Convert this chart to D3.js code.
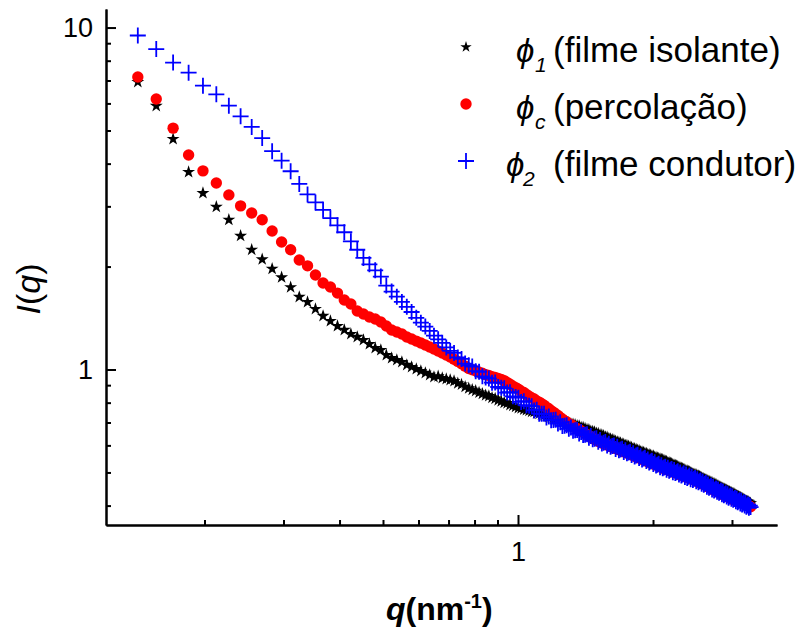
<!DOCTYPE html>
<html>
<head>
<meta charset="utf-8">
<script src="https://cdn.jsdelivr.net/npm/d3@7"></script>
<style>
  body { margin: 0; background: #fff; }
  svg { display: block; }
  text { font-family: "Liberation Sans", Arial, sans-serif; }
</style>
</head>
<body>
<svg id="chart" width="801" height="630"></svg>
<script>

// q grid (nm^-1), shared by the three curves
var q = [
  0.1420,0.1561,0.1702,0.1843,0.1984,0.2125,0.2266,0.2407,0.2548,0.2689,
  0.2830,0.2971,0.3112,0.3253,0.3394,0.3535,0.3676,0.3817,0.3958,0.4099,
  0.4240,0.4381,0.4522,0.4663,0.4804,0.4945,0.5086,0.5227,0.5368,0.5509,
  0.5650,0.5791,0.5932,0.6073,0.6214,0.6355,0.6496,0.6637,0.6778,0.6919,
  0.7060,0.7201,0.7342,0.7483,0.7624,0.7765,0.7906,0.8047,0.8188,0.8329,
  0.8470,0.8611,0.8752,0.8893,0.9034,0.9175,0.9316,0.9457,0.9598,0.9739,
  0.9880,1.0021,1.0162,1.0303,1.0444,1.0585,1.0726,1.0867,1.1008,1.1149,
  1.1290,1.1431,1.1572,1.1713,1.1854,1.1995,1.2136,1.2277,1.2418,1.2559,
  1.2700,1.2841,1.2982,1.3123,1.3264,1.3405,1.3546,1.3687,1.3828,1.3969,
  1.4110,1.4251,1.4392,1.4533,1.4674,1.4815,1.4956,1.5097,1.5238,1.5379,
  1.5520,1.5661,1.5802,1.5943,1.6084,1.6225,1.6366,1.6507,1.6648,1.6789,
  1.6930,1.7071,1.7212,1.7353,1.7494,1.7635,1.7776,1.7917,1.8058,1.8199,
  1.8340,1.8481,1.8622,1.8763,1.8904,1.9045,1.9186,1.9327,1.9468,1.9609,
  1.9750,1.9891,2.0032,2.0173,2.0314,2.0455,2.0596,2.0737,2.0878,2.1019,
  2.1160,2.1301,2.1442,2.1583,2.1724,2.1865,2.2006,2.2147,2.2288,2.2429,
  2.2570,2.2711,2.2852,2.2993,2.3134,2.3275,2.3416,2.3557,2.3698,2.3839,
  2.3980,2.4121,2.4262,2.4403,2.4544,2.4685,2.4826,2.4967,2.5108,2.5249,
  2.5390,2.5531,2.5672,2.5813,2.5954,2.6095,2.6236,2.6377,2.6518,2.6659,
  2.6800,2.6941,2.7082,2.7223,2.7364,2.7505,2.7646,2.7787,2.7928,2.8069,
  2.8210,2.8351,2.8492,2.8633,2.8774,2.8915,2.9056,2.9197,2.9338,2.9479,
  2.9620,2.9761,2.9902,3.0043,3.0184,3.0325,3.0466,3.0607,3.0748,3.0889,
  3.1030,3.1171,3.1312,3.1453,3.1594,3.1735,3.1876,3.2017,3.2158,3.2299,
  3.2440,3.2581,3.2722,3.2863,3.3004
];

// phi1 - filme isolante (black stars)
var phi1 = [
  6.93,5.90,4.72,3.78,3.28,2.99,2.74,2.46,2.24,2.10,
  1.97,1.86,1.74,1.63,1.575,1.503,1.434,1.386,1.340,1.305,
  1.270,1.245,1.220,1.187,1.156,1.140,1.102,1.080,1.066,1.052,
  1.031,1.017,1.003,0.990,0.977,0.964,0.951,0.955,0.944,0.938,
  0.932,0.925,0.911,0.904,0.890,0.881,0.872,0.866,0.856,0.849,
  0.841,0.836,0.827,0.822,0.813,0.807,0.800,0.797,0.788,0.784,
  0.778,0.772,0.770,0.764,0.761,0.758,0.753,0.752,0.745,0.743,
  0.739,0.735,0.733,0.728,0.725,0.722,0.720,0.714,0.712,0.708,
  0.705,0.701,0.699,0.693,0.692,0.689,0.684,0.683,0.677,0.676,
  0.672,0.667,0.666,0.660,0.659,0.656,0.651,0.650,0.644,0.643,
  0.640,0.635,0.633,0.628,0.626,0.623,0.621,0.617,0.614,0.612,
  0.609,0.605,0.604,0.599,0.599,0.596,0.593,0.591,0.586,0.586,
  0.583,0.580,0.579,0.575,0.574,0.572,0.569,0.568,0.564,0.563,
  0.561,0.558,0.558,0.554,0.553,0.551,0.549,0.547,0.545,0.544,
  0.542,0.539,0.538,0.534,0.534,0.532,0.530,0.527,0.525,0.524,
  0.522,0.520,0.518,0.515,0.514,0.512,0.510,0.509,0.505,0.505,
  0.503,0.501,0.499,0.497,0.495,0.494,0.492,0.491,0.488,0.488,
  0.486,0.484,0.482,0.479,0.479,0.477,0.475,0.474,0.471,0.471,
  0.469,0.467,0.466,0.463,0.463,0.461,0.460,0.457,0.456,0.454,
  0.453,0.451,0.450,0.448,0.447,0.446,0.444,0.443,0.441,0.440,
  0.439,0.437,0.436,0.434,0.433,0.432,0.430,0.429,0.427,0.426,
  0.425,0.423,0.422,0.420,0.419,0.418,0.416,0.415,0.413,0.412,
  0.411,0.410,0.408,0.407,0.406
];

// phi_c - percolacao (red circles)
var phic = [
  7.17,6.18,5.08,4.24,3.81,3.51,3.24,3.01,2.87,2.74,
  2.54,2.36,2.24,2.09,2.01,1.889,1.790,1.743,1.673,1.597,
  1.554,1.483,1.453,1.424,1.405,1.377,1.340,1.305,1.287,1.270,
  1.245,1.228,1.211,1.195,1.179,1.164,1.148,1.133,1.117,1.102,
  1.088,1.071,1.056,1.039,1.023,1.007,0.998,0.992,0.982,0.975,
  0.966,0.961,0.953,0.948,0.941,0.936,0.928,0.916,0.906,0.894,
  0.885,0.876,0.864,0.857,0.845,0.835,0.826,0.820,0.809,0.803,
  0.794,0.786,0.776,0.768,0.758,0.750,0.741,0.734,0.724,0.716,
  0.707,0.702,0.694,0.690,0.682,0.677,0.671,0.667,0.660,0.656,
  0.650,0.645,0.640,0.635,0.629,0.624,0.621,0.617,0.614,0.610,
  0.607,0.604,0.602,0.599,0.596,0.594,0.591,0.588,0.586,0.583,
  0.580,0.578,0.575,0.573,0.570,0.568,0.566,0.563,0.561,0.558,
  0.556,0.554,0.552,0.549,0.547,0.545,0.543,0.540,0.539,0.536,
  0.534,0.532,0.530,0.528,0.526,0.524,0.522,0.520,0.518,0.516,
  0.514,0.512,0.511,0.509,0.507,0.506,0.504,0.502,0.501,0.499,
  0.498,0.496,0.495,0.493,0.491,0.490,0.489,0.487,0.486,0.484,
  0.483,0.481,0.480,0.478,0.477,0.476,0.474,0.473,0.471,0.469,
  0.468,0.466,0.465,0.463,0.461,0.460,0.458,0.456,0.454,0.453,
  0.451,0.450,0.448,0.446,0.445,0.443,0.442,0.440,0.439,0.437,
  0.436,0.435,0.433,0.432,0.430,0.429,0.428,0.426,0.425,0.423,
  0.422,0.421,0.420,0.418,0.417,0.416,0.415,0.414,0.413,0.412,
  0.411,0.410,0.409,0.408,0.407,0.406,0.405,0.404,0.403,0.402,
  0.401,0.400,0.399,0.398,0.397
];

// phi2 - filme condutor (blue crosses)
var phi2 = [
  9.48,8.65,7.90,7.38,6.76,6.38,5.91,5.50,5.12,4.75,
  4.35,4.08,3.80,3.49,3.25,3.08,2.93,2.77,2.64,2.52,
  2.37,2.24,2.12,2.03,1.95,1.87,1.76,1.69,1.633,1.576,
  1.525,1.473,1.416,1.371,1.335,1.297,1.256,1.225,1.197,1.160,
  1.133,1.118,1.085,1.074,1.041,1.029,1.020,0.989,0.985,0.955,
  0.947,0.941,0.915,0.916,0.889,0.885,0.881,0.856,0.858,0.835,
  0.831,0.827,0.804,0.808,0.786,0.783,0.781,0.759,0.763,0.743,
  0.742,0.742,0.724,0.729,0.711,0.712,0.713,0.695,0.701,0.684,
  0.685,0.687,0.671,0.677,0.662,0.664,0.666,0.650,0.657,0.643,
  0.645,0.647,0.632,0.639,0.625,0.627,0.630,0.615,0.622,0.608,
  0.611,0.614,0.599,0.607,0.594,0.597,0.600,0.586,0.594,0.581,
  0.584,0.587,0.574,0.581,0.569,0.572,0.575,0.562,0.569,0.557,
  0.560,0.563,0.551,0.558,0.546,0.549,0.552,0.540,0.546,0.535,
  0.538,0.541,0.529,0.536,0.524,0.527,0.530,0.518,0.525,0.514,
  0.517,0.520,0.509,0.516,0.506,0.509,0.512,0.501,0.508,0.498,
  0.501,0.504,0.493,0.500,0.490,0.493,0.497,0.485,0.493,0.482,
  0.486,0.490,0.478,0.486,0.475,0.479,0.482,0.471,0.478,0.468,
  0.471,0.474,0.463,0.470,0.460,0.463,0.466,0.454,0.461,0.451,
  0.454,0.457,0.446,0.453,0.443,0.446,0.449,0.439,0.446,0.436,
  0.439,0.442,0.432,0.439,0.429,0.432,0.435,0.425,0.432,0.422,
  0.425,0.428,0.419,0.425,0.416,0.418,0.421,0.412,0.419,0.409,
  0.412,0.415,0.406,0.413,0.403,0.406,0.409,0.400,0.407,0.397,
  0.400,0.403,0.394,0.400,0.396
];

var xMajorTicks = [1];
var xMinorTicks = [0.2, 0.3, 0.4, 0.5, 0.6, 0.7, 0.8, 0.9, 2, 3];
var yMajorTicks = [1, 10];
var yMinorTicks = [0.4, 0.5, 0.6, 0.7, 0.8, 0.9, 2, 3, 4, 5, 6, 7, 8, 9];

var legendSub = ["1", "c", "2"];
var legendText = ["(filme isolante)", "(percolação)", "(filme condutor)"];

var font = '"Liberation Sans", Arial, sans-serif';
var svg = d3.select("#chart");

var x = d3.scaleLog().domain([0.1206, 3.78]).range([106, 777]);
var y = d3.scaleLog().domain([0.351, 11.33]).range([525, 9]);

function pts(vals) {
  return vals.map(function(v, i) { return [q[i], v]; });
}

var star = d3.symbol(d3.symbolStar, 52);
var cross = "M-8,0H8M0,-8V8";
var dotR = 5.7;

//black stars first, red circles over them, blue crosses on top
svg.append("g").selectAll("path")
  .data(pts(phi1))
  .enter().append("path")
  .attr("transform", function(d) { return "translate(" + x(d[0]) + "," + y(d[1]) + ")"; })
  .attr("d", star)
  .attr("fill", "#000");

svg.append("g").selectAll("circle")
  .data(pts(phic))
  .enter().append("circle")
  .attr("cx", function(d) { return x(d[0]); })
  .attr("cy", function(d) { return y(d[1]); })
  .attr("r", dotR)
  .attr("fill", "#ff0000");

svg.append("g").selectAll("path")
  .data(pts(phi2))
  .enter().append("path")
  .attr("transform", function(d) { return "translate(" + x(d[0]) + "," + y(d[1]) + ")"; })
  .attr("d", cross)
  .attr("fill", "none")
  .attr("stroke", "#0000ff")
  .attr("stroke-width", 1.8);

//axes, ticks point inwards
function styleAxis(g) {
  g.selectAll("path, line").attr("stroke", "#000").attr("stroke-width", 2);
  g.selectAll("text").attr("font-family", font).attr("font-size", 27).attr("fill", "#000");
}

svg.append("g")
  .attr("transform", "translate(0,525)")
  .call(d3.axisBottom(x).tickValues(xMinorTicks).tickSize(-5).tickSizeOuter(0).tickFormat(""))
  .call(styleAxis);
svg.append("g")
  .attr("transform", "translate(0,525)")
  .call(d3.axisBottom(x).tickValues(xMajorTicks).tickSizeInner(-10).tickSizeOuter(0)
    .tickPadding(17).tickFormat(d3.format("d")))
  .call(styleAxis);

svg.append("g")
  .attr("transform", "translate(106,0)")
  .call(d3.axisLeft(y).tickValues(yMinorTicks).tickSize(-5).tickSizeOuter(0).tickFormat(""))
  .call(styleAxis);
svg.append("g")
  .attr("transform", "translate(106,0)")
  .call(d3.axisLeft(y).tickValues(yMajorTicks).tickSizeInner(-10).tickSizeOuter(0)
    .tickPadding(13).tickFormat(d3.format("d")))
  .call(styleAxis);

//axis titles
var xt = svg.append("text")
  .attr("x", 386).attr("y", 620)
  .attr("font-size", 32).attr("font-weight", "bold");
xt.append("tspan").attr("font-style", "italic").text("q");
xt.append("tspan").text("(nm");
xt.append("tspan").attr("font-size", 20).attr("dy", -12).text("-1");
xt.append("tspan").attr("dy", 12).text(")");

var yt = svg.append("text")
  .attr("transform", "translate(40,289) rotate(-90)")
  .attr("text-anchor", "middle")
  .attr("font-size", 34);
yt.append("tspan").attr("font-style", "italic").text("I");
yt.append("tspan").text("(");
yt.append("tspan").attr("font-style", "italic").text("q");
yt.append("tspan").text(")");

//legend
var rowBase = [62, 119, 176];
var phiX = [516, 516, 506];
var subX = [535, 535, 523];

legendText.forEach(function(label, i) {
  var g = svg.append("g");
  var my = rowBase[i] - 15;
  if (i == 0) {
    g.append("path").attr("transform", "translate(466," + my + ")").attr("d", d3.symbol(d3.symbolStar, 40)).attr("fill", "#000");
  } else if (i == 1) {
    g.append("circle").attr("cx", 466).attr("cy", my).attr("r", dotR).attr("fill", "#ff0000");
  } else {
    g.append("path").attr("transform", "translate(466," + my + ")").attr("d", cross)
      .attr("fill", "none").attr("stroke", "#0000ff").attr("stroke-width", 1.8);
  }
  g.append("text").attr("x", phiX[i]).attr("y", rowBase[i])
    .attr("font-size", 33).attr("font-style", "italic").text("ϕ");
  g.append("text").attr("x", subX[i]).attr("y", rowBase[i] + 10)
    .attr("font-size", 21).attr("font-style", "italic").text(legendSub[i]);
  g.append("text").attr("x", 553).attr("y", rowBase[i])
    .attr("font-size", 35).text(label);
});

</script>
</body>
</html>
